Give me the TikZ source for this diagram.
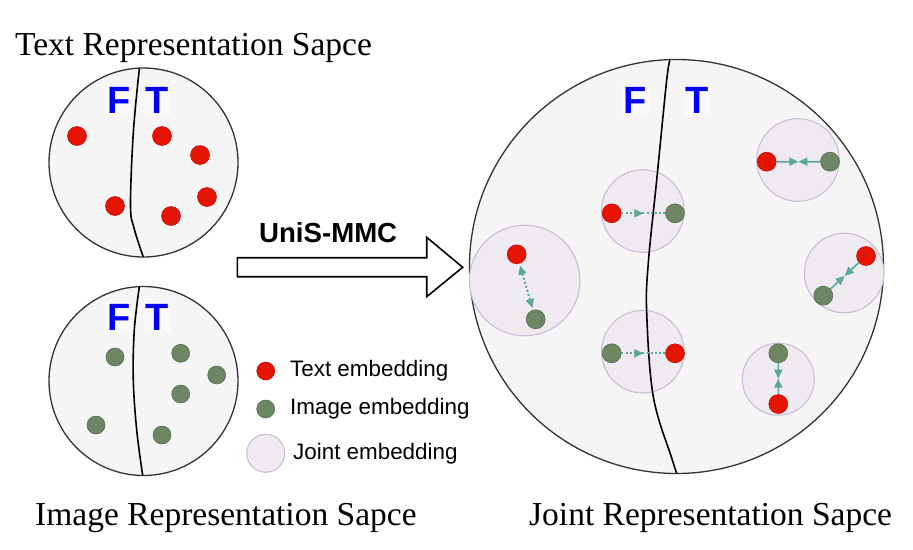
\documentclass[tikz,border=0pt]{standalone}
\usepackage{fontspec}
\setmainfont{Liberation Serif}
\setsansfont{Liberation Sans}
\usetikzlibrary{arrows.meta,decorations.markings,calc}
\definecolor{redf}{HTML}{E51400}
\definecolor{redd}{HTML}{C00A00}
\definecolor{grnf}{HTML}{6D8764}
\definecolor{grnd}{HTML}{4A6541}
\definecolor{jntf}{HTML}{EEEAF0}
\definecolor{jntd}{HTML}{CDBCD8}
\definecolor{spcf}{HTML}{F5F5F5}
\definecolor{spcd}{HTML}{333333}
\definecolor{tealc}{HTML}{5BA89A}
\definecolor{lblbg}{HTML}{FAFAFD}
\begin{document}
\begin{tikzpicture}[x=1pt,y=-1pt,
  spacecirc/.style={circle, draw=spcd, line width=1.3pt, fill=spcf, inner sep=0pt},
  reddot/.style={circle, fill=redf, draw=redd, line width=0.5pt, minimum size=19pt, inner sep=0pt},
  grndot/.style={circle, fill=grnf, draw=grnd, line width=0.5pt, minimum size=19pt, inner sep=0pt},
  jointc/.style={circle, fill=jntf, draw=jntd, line width=1.1pt, inner sep=0pt},
  ftlbl/.style={font=\sffamily\bfseries\fontsize{38}{38}\selectfont, text=blue, fill=lblbg, inner sep=1.5pt, anchor=base},
  titletxt/.style={font=\fontsize{33.5}{36}\selectfont, anchor=base west, inner sep=0pt},
  legtxt/.style={font=\sffamily\fontsize{22.4}{24}\selectfont, anchor=west, inner sep=0pt},
  divider/.style={line width=1.6pt, black},
  midarr/.style={draw=tealc, line width=2pt, dash pattern=on 2pt off 2.2pt,
     postaction={decorate},
     decoration={markings, mark=at position 0.5 with {\arrow{Triangle[length=9pt,width=8pt]}}}},
  dblarr/.style={draw=tealc, line width=2pt, dash pattern=on 2pt off 2.2pt,
     {Triangle[length=9pt,width=8pt]}-{Triangle[length=9pt,width=8pt]}, shorten <=2pt, shorten >=2pt},
  meetarr/.style={draw=tealc, line width=1.6pt, -{Triangle[length=9pt,width=8pt]}}
]
\useasboundingbox (0,0) rectangle (913,549);

% ---------- titles ----------
\node[titletxt] (t1) at (15,55) {Text Representation Sapce};
\node[titletxt] (t2) at (35,525) {Image Representation Sapce};
\node[titletxt] (t3) at (529,525) {Joint Representation Sapce};

% ---------- text space ----------
\node[spacecirc, minimum size=189pt] (ts) at (143.5,162.5) {};
\draw[divider] plot[smooth, tension=0.6] coordinates {(139.3,69) (133.3,133) (130.5,205) (134,228) (143.3,257)};
\node[ftlbl] (tsF) at (119,113) {F};
\node[ftlbl] (tsT) at (157.5,113) {T};
\node[reddot] (tr1) at (77,136) {};
\node[reddot] (tr2) at (162,136) {};
\node[reddot] (tr3) at (200,155) {};
\node[reddot] (tr4) at (207,197) {};
\node[reddot] (tr5) at (115,206) {};
\node[reddot] (tr6) at (171,216) {};

% ---------- image space ----------
\node[spacecirc, minimum size=189pt] (is) at (143.5,381) {};
\draw[divider] plot[smooth, tension=0.6] coordinates {(139.3,287) (134.3,330) (133.3,380) (136.7,430) (142.7,475.5)};
\node[ftlbl] (isF) at (119,330) {F};
\node[ftlbl] (isT) at (157.5,330) {T};
\node[grndot, minimum size=18pt] (ig1) at (115,357) {};
\node[grndot, minimum size=18pt] (ig2) at (180.7,353.3) {};
\node[grndot, minimum size=18pt] (ig3) at (216.7,375) {};
\node[grndot, minimum size=18pt] (ig4) at (180.7,394) {};
\node[grndot, minimum size=18pt] (ig5) at (96,425) {};
\node[grndot, minimum size=18pt] (ig6) at (162,435) {};

% ---------- legend ----------
\node[reddot, minimum size=18pt] (lr) at (265.7,371) {};
\node[legtxt] (lrt) at (290,371) {Text embedding};
\node[grndot, minimum size=18pt] (lg) at (265.7,409) {};
\node[legtxt] (lgt) at (290,409) {Image embedding};
\node[jointc, minimum size=38pt] (lj) at (265.7,453.3) {};
\node[legtxt] (ljt) at (293,453.3) {Joint embedding};

% ---------- hollow arrow ----------
\draw[line width=1.6pt, fill=white, line join=miter] (237.3,257.7) -- (426.7,257.7) -- (426.7,237.3) -- (462.7,267.3) -- (426.7,296.7) -- (426.7,276.7) -- (237.3,276.7) -- cycle;
\node[font=\sffamily\bfseries\fontsize{27.6}{28}\selectfont, anchor=base west, inner sep=0pt] (um) at (259,242.3) {UniS-MMC};

% ---------- joint space ----------
\node[spacecirc, minimum size=414pt] (js) at (676.5,266.5) {};
\node[jointc, minimum size=110.6pt] (j1) at (524.7,280.5) {};
\node[jointc, minimum size=82.6pt] (j2) at (642.8,211) {};
\node[jointc, minimum size=82.6pt] (j3) at (642.8,351.7) {};
\node[jointc, minimum size=82.6pt] (j4) at (798,160) {};
\node[jointc, minimum size=79.6pt] (j5) at (844.2,273) {};
\node[jointc, minimum size=72pt] (j6) at (778.3,379.2) {};
\draw[divider] plot[smooth, tension=0.6] coordinates {(670,60.5) (666.7,80) (656.7,180) (648.3,263) (646.7,313) (653.3,396.7) (671.7,458) (676.7,473)};
\node[ftlbl] (jsF) at (635.5,113) {F};
\node[ftlbl] (jsT) at (697.5,113) {T};

\node[reddot] (r1) at (516.7,254.3) {};
\node[grndot] (g1) at (535.7,319.3) {};
\node[reddot] (r2) at (611.7,213.3) {};
\node[grndot] (g2) at (675,213.3) {};
\node[grndot] (g3) at (611.7,353.3) {};
\node[reddot] (r3) at (675,353.3) {};
\node[reddot] (r4) at (766.7,161.7) {};
\node[grndot] (g4) at (830,161.7) {};
\node[reddot] (r5) at (866,256) {};
\node[grndot] (g5) at (823.3,295.7) {};
\node[grndot] (g6) at (778.3,353.3) {};
\node[reddot] (r6) at (778.3,404) {};

\draw[dblarr] (r1) -- (g1);
\draw[midarr] (r2) -- (g2);
\draw[midarr] (g3) -- (r3);
\coordinate (m4) at ($(r4)!0.5!(g4)$);
\coordinate (m5) at ($(r5)!0.5!(g5)$);
\coordinate (m6) at ($(r6)!0.5!(g6)$);
\draw[meetarr] (r4) -- (m4);
\draw[meetarr] (g4) -- (m4);
\draw[meetarr] (r5) -- (m5);
\draw[meetarr] (g5) -- (m5);
\draw[meetarr] (r6) -- (m6);
\draw[meetarr] (g6) -- (m6);
\end{tikzpicture}
\end{document}
